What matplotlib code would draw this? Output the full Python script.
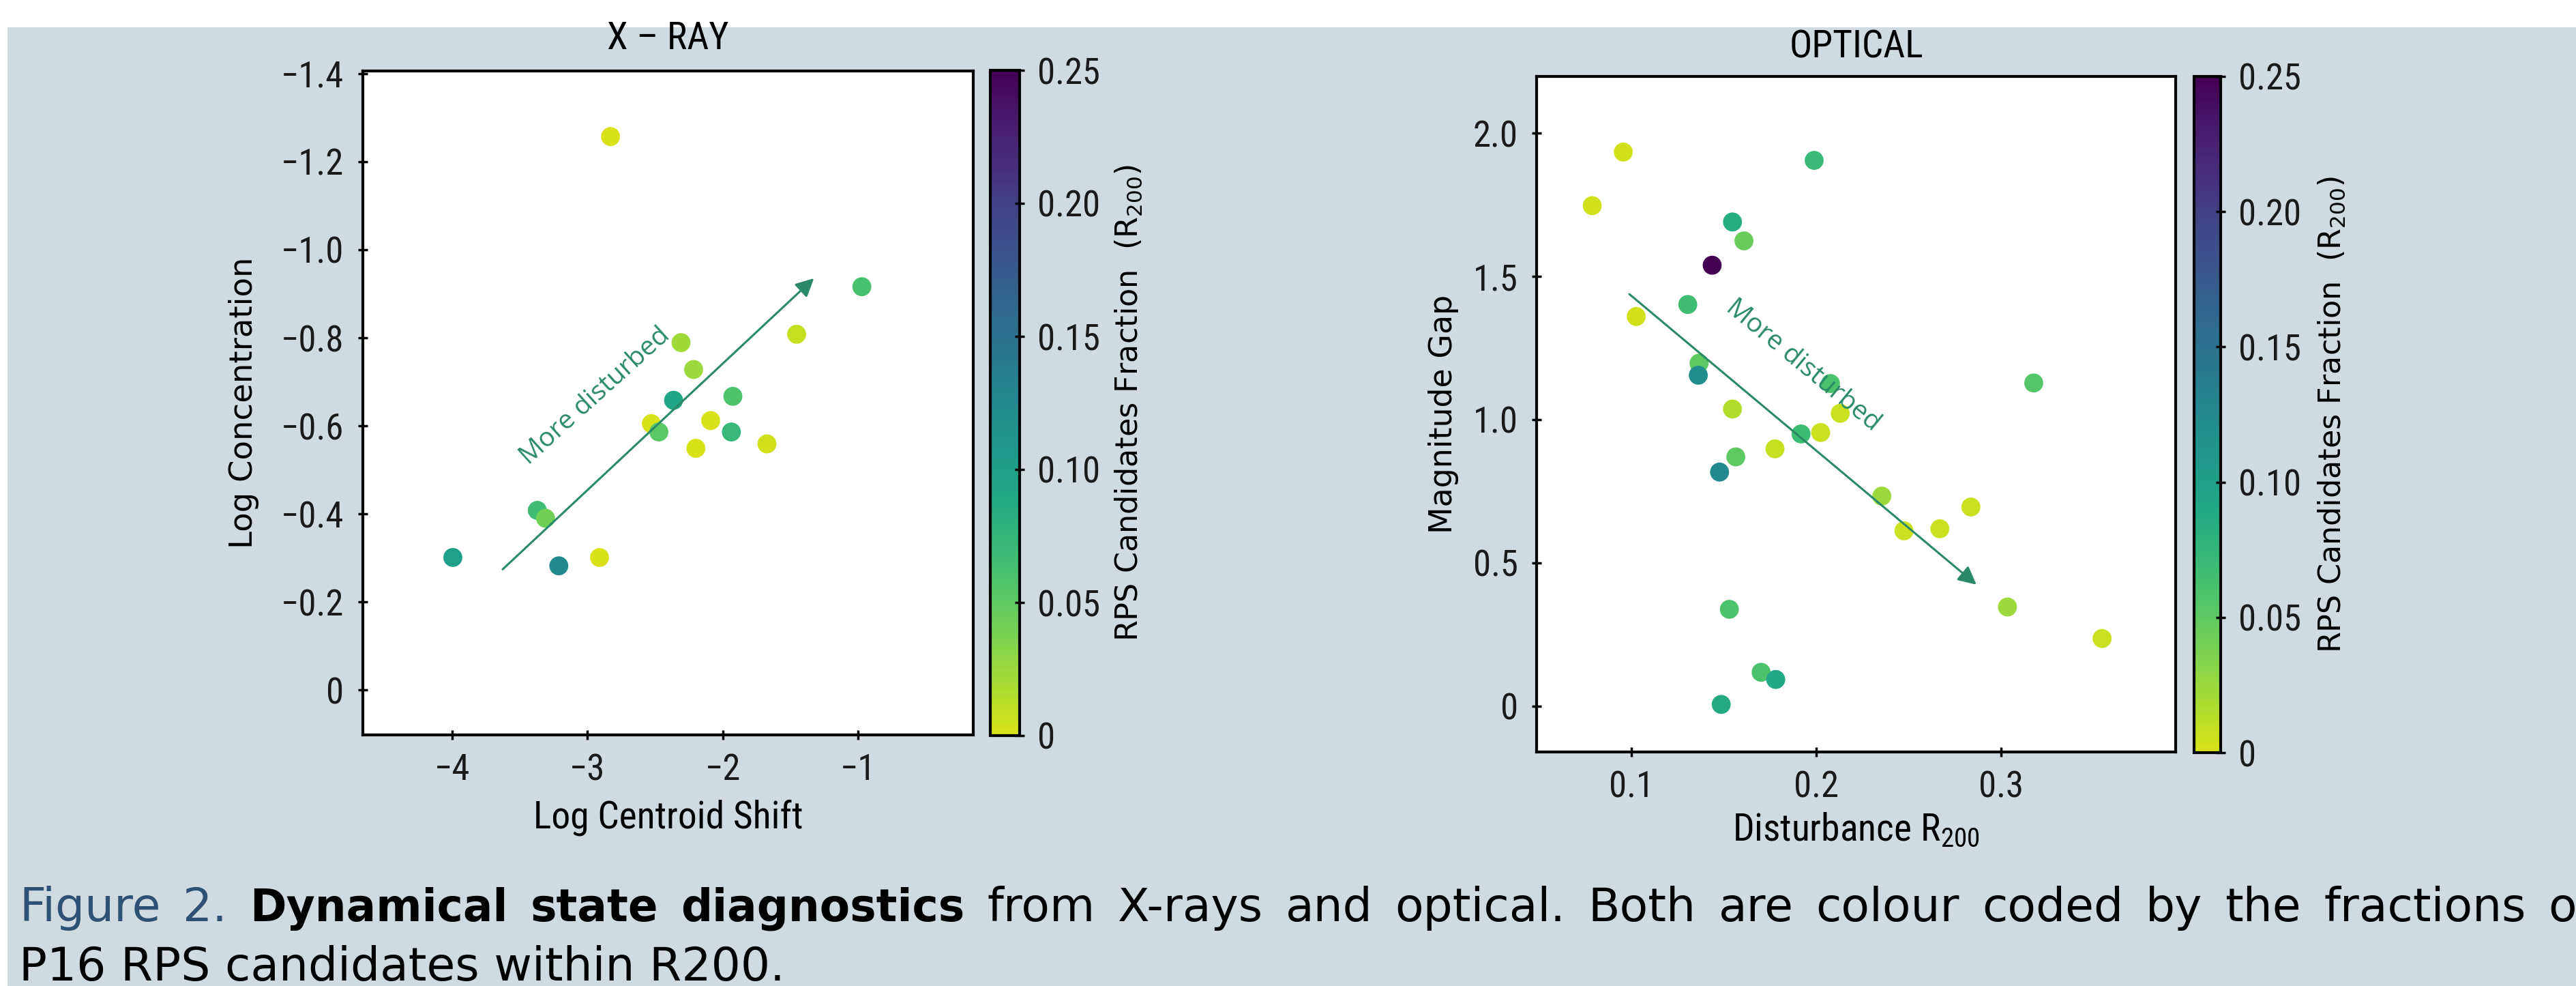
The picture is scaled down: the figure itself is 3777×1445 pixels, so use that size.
import matplotlib
matplotlib.use('Agg')
import numpy as np
import matplotlib.pyplot as plt
from matplotlib import font_manager as fm
from matplotlib.patches import Rectangle
from matplotlib.colors import Normalize, ListedColormap

# ---------------- data ----------------
xray_shift = [-2.83, -0.973, -1.455, -2.309, -2.216, -2.364, -1.926, -2.528, -2.473,
              -2.09, -1.937, -2.199, -1.674, -3.371, -3.31, -3.995, -3.212, -2.911]
xray_conc = [-1.257, -0.916, -0.808, -0.789, -0.728, -0.658, -0.667, -0.605, -0.586,
             -0.612, -0.586, -0.549, -0.559, -0.408, -0.39, -0.301, -0.282, -0.301]
xray_frac = [0.0, 0.062, 0.008, 0.022, 0.025, 0.092, 0.058, 0.0, 0.052,
             0.0, 0.072, 0.0, 0.003, 0.066, 0.042, 0.1, 0.125, 0.0]

opt_dist = [0.0956, 0.0788, 0.1989, 0.1547, 0.1609, 0.1437, 0.1305, 0.1026, 0.1366,
            0.1362, 0.1547, 0.2077, 0.2130, 0.2024, 0.1918, 0.1777, 0.1565, 0.1477,
            0.3177, 0.2355, 0.2475, 0.2669, 0.2837, 0.3035, 0.3547, 0.1530, 0.1702,
            0.1781, 0.1486]
opt_gap = [1.934, 1.747, 1.905, 1.690, 1.624, 1.539, 1.402, 1.360, 1.197,
           1.155, 1.037, 1.126, 1.022, 0.955, 0.950, 0.898, 0.870, 0.817,
           1.128, 0.733, 0.612, 0.619, 0.695, 0.346, 0.236, 0.338, 0.118,
           0.093, 0.006]
opt_frac = [0.003, 0.003, 0.07, 0.085, 0.045, 0.25, 0.066, 0.003, 0.05,
            0.12, 0.015, 0.06, 0.005, 0.005, 0.068, 0.008, 0.05, 0.125,
            0.055, 0.025, 0.005, 0.005, 0.005, 0.025, 0.005, 0.06, 0.06,
            0.09, 0.088]

xray_xticks = [-4, -3, -2, -1]
xray_xticklabels = ['\u22124', '\u22123', '\u22122', '\u22121']
xray_yticks = [-1.4, -1.2, -1.0, -0.8, -0.6, -0.4, -0.2, 0.0]
xray_yticklabels = ['\u22121.4', '\u22121.2', '\u22121.0', '\u22120.8', '\u22120.6',
                    '\u22120.4', '\u22120.2', '0']
opt_xticks = [0.1, 0.2, 0.3]
opt_xticklabels = ['0.1', '0.2', '0.3']
opt_yticks = [0.0, 0.5, 1.0, 1.5, 2.0]
opt_yticklabels = ['0', '0.5', '1.0', '1.5', '2.0']
cbar_ticks = [0.0, 0.05, 0.10, 0.15, 0.20, 0.25]
cbar_ticklabels = ['0', '0.05', '0.10', '0.15', '0.20', '0.25']

caption_line1 = [('Figure', 'fig'), ('2.', 'fig'), ('Dynamical', 'bold'), ('state', 'bold'),
                 ('diagnostics', 'bold'), ('from', 'reg'), ('X-rays', 'reg'), ('and', 'reg'),
                 ('optical.', 'reg'), ('Both', 'reg'), ('are', 'reg'), ('colour', 'reg'),
                 ('coded', 'reg'), ('by', 'reg'), ('the', 'reg'), ('fractions', 'reg'),
                 ('of', 'reg')]
caption_line2 = 'P16 RPS candidates within R200.'

# ---------------- fonts ----------------
def pick(fams):
    for f in fams:
        try:
            fm.findfont(fm.FontProperties(family=f), fallback_to_default=False)
            return f
        except Exception:
            pass
    return 'DejaVu Sans'

NARROW = pick(['Liberation Sans Narrow', 'Roboto Condensed', 'DejaVu Sans'])
WIDE = 'DejaVu Sans'
plt.rcParams['font.family'] = [NARROW, 'DejaVu Sans']

W, H = 3777, 1445
BG = '#cfdbe0'
GREEN = '#2a8a68'
cmap = ListedColormap(plt.get_cmap('viridis')(np.linspace(0.94, 0.0, 256)))
norm = Normalize(vmin=0, vmax=0.25)

fig = plt.figure(figsize=(W / 100, H / 100), dpi=100)
fig.patch.set_facecolor(BG)
fig.add_artist(Rectangle((0, 1 - 40 / H), 1, 40 / H, transform=fig.transFigure,
                         facecolor='white', edgecolor='none', zorder=-5))
fig.add_artist(Rectangle((0, 0), 11 / W, 1, transform=fig.transFigure,
                         facecolor='white', edgecolor='none', zorder=-5))


def box(x0, x1, y0, y1):
    return [x0 / W, 1 - y1 / H, (x1 - x0) / W, (y1 - y0) / H]


def style(ax, lw=3):
    for s in ax.spines.values():
        s.set_linewidth(lw)
        s.set_color('black')
    ax.tick_params(direction='inout', length=10, width=2.5, labelsize=38,
                   labelcolor='#1a1a1a', color='black')


# ---------------- X-ray panel ----------------
ax1 = fig.add_axes(box(532, 1427, 104, 1077))
sc1 = ax1.scatter(xray_shift, xray_conc, c=xray_frac, cmap=cmap, norm=norm,
                  s=400, linewidths=0, zorder=3)
ax1.set_xlim(-4.66, -0.15)
ax1.set_ylim(0.102, -1.406)
ax1.set_xticks(xray_xticks, xray_xticklabels)
ax1.set_yticks(xray_yticks, xray_yticklabels)
style(ax1)
ax1.tick_params(axis='y', pad=15)
ax1.tick_params(axis='x', pad=14)
ax1.set_title('X \u2013 RAY', fontsize=40, pad=23)
ax1.set_xlabel('Log Centroid Shift', fontsize=40)
ax1.xaxis.set_label_coords(0.5, -0.097)
ax1.set_ylabel('Log Concentration', fontsize=33.5, family=WIDE)
ax1.yaxis.set_label_coords(-0.170, 0.5)
ax1.annotate('', xy=(-1.327, -0.935), xytext=(-3.627, -0.274),
             arrowprops=dict(arrowstyle='-|>', color=GREEN, lw=2.2, mutation_scale=40,
                             shrinkA=0, shrinkB=0), zorder=5)
ax1.text(-2.941, -0.667, 'More disturbed', rotation=42, rotation_mode='anchor',
         ha='center', va='center', fontsize=28, color=GREEN,
         family=['Open Sans', 'DejaVu Sans'], zorder=6)

cax1 = fig.add_axes(box(1452, 1495, 103, 1078))
cb1 = fig.colorbar(sc1, cax=cax1)
cb1.set_ticks(cbar_ticks, labels=cbar_ticklabels)
cb1.outline.set_linewidth(3)
style(cax1)
cax1.tick_params(pad=14)
cb1.set_label('RPS Candidates Fraction  (R$_{\\mathregular{200}}$)', fontsize=32,
              family=WIDE)
cax1.yaxis.set_label_coords(4.19, 0.5)

# ---------------- Optical panel ----------------
ax2 = fig.add_axes(box(2253, 3190, 112, 1102))
sc2 = ax2.scatter(opt_dist, opt_gap, c=opt_frac, cmap=cmap, norm=norm,
                  s=400, linewidths=0, zorder=3)
ax2.set_xlim(0.0487, 0.3945)
ax2.set_ylim(-0.16, 2.198)
ax2.set_xticks(opt_xticks, opt_xticklabels)
ax2.set_yticks(opt_yticks, opt_yticklabels)
style(ax2)
ax2.tick_params(axis='y', pad=14.5)
ax2.tick_params(axis='x', pad=14)
ax2.set_title('OPTICAL', fontsize=40, pad=20)
ax2.set_xlabel('Disturbance R$_{\\mathregular{200}}$', fontsize=40)
ax2.xaxis.set_label_coords(0.5, -0.088)
ax2.set_ylabel('Magnitude Gap', fontsize=33, family=WIDE)
ax2.yaxis.set_label_coords(-0.1217, 0.5)
ax2.annotate('', xy=(0.2867, 0.424), xytext=(0.0989, 1.438),
             arrowprops=dict(arrowstyle='-|>', color=GREEN, lw=2.2, mutation_scale=40,
                             shrinkA=0, shrinkB=0), zorder=5)
ax2.text(0.193, 1.188, 'More disturbed', rotation=-39.5, rotation_mode='anchor',
         ha='center', va='center', fontsize=28, color=GREEN,
         family=['Open Sans', 'DejaVu Sans'], zorder=6)

cax2 = fig.add_axes(box(3217, 3256, 112, 1103))
cb2 = fig.colorbar(sc2, cax=cax2)
cb2.set_ticks(cbar_ticks, labels=cbar_ticklabels)
cb2.outline.set_linewidth(3)
style(cax2)
cax2.tick_params(pad=14)
cb2.set_label('RPS Candidates Fraction  (R$_{\\mathregular{200}}$)', fontsize=32,
              family=WIDE)
cax2.yaxis.set_label_coords(4.59, 0.5)

# ---------------- caption (justified first line) ----------------
CAP = 49
y1 = (H - 1350) / H
y2 = (H - 1437) / H
styles = {
    'fig': dict(color='#2d5275', family=[WIDE], fontsize=CAP),
    'reg': dict(color='black', family=[WIDE], fontsize=CAP),
    'bold': dict(color='black', family=[WIDE], fontweight='bold', fontsize=46.5),
}
fig.canvas.draw()
r = fig.canvas.get_renderer()
words = []
for w, st in caption_line1:
    t = fig.text(0, y1, w, va='baseline', **styles[st])
    words.append(t)
widths = [t.get_window_extent(r).width for t in words]
left, right = 28.0, 3802.0
gap = (right - left - sum(widths)) / (len(words) - 1)
x = left
for t, wd in zip(words, widths):
    t.set_x(x / W)
    x += wd + gap
fig.text(28 / W, y2, caption_line2, fontsize=CAP, color='black', va='baseline',
         family=WIDE)

fig.savefig('out.png', dpi=100, facecolor=fig.get_facecolor())
